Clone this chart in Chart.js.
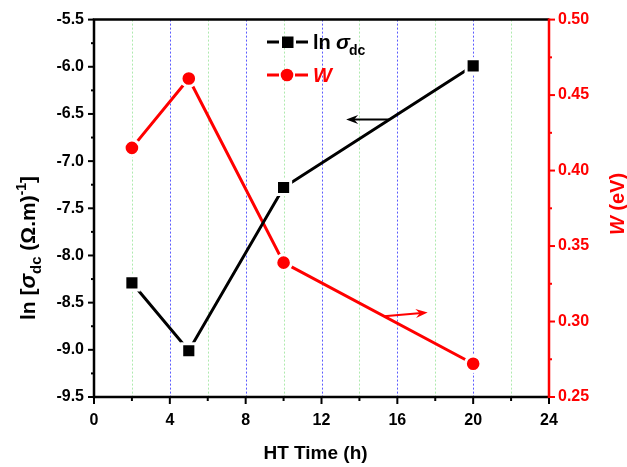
<!DOCTYPE html>
<html>
<head>
<meta charset="utf-8">
<script src="https://cdn.jsdelivr.net/npm/chart.js@4"></script>
<style>
  body { margin: 0; background: #fff; }
  #wrap { width: 627px; height: 467px; }
</style>
</head>
<body>
<div id="wrap"><canvas id="myChart" width="627" height="467"></canvas></div>
<script>
// data
const htTime = [2, 5, 10, 20]
const lnSigma = [-8.29, -9.01, -7.28, -5.99]
const wValues = [0.415, 0.461, 0.339, 0.272]

const xMajorTicks = [0, 4, 8, 12, 16, 20, 24]
const xMinorTicks = [2, 6, 10, 14, 18, 22]
const yMajorTicks = [-9.5, -9.0, -8.5, -8.0, -7.5, -7.0, -6.5, -6.0, -5.5]
const yMinorTicks = [-9.25, -8.75, -8.25, -7.75, -7.25, -6.75, -6.25, -5.75]
const wMajorTicks = [0.25, 0.30, 0.35, 0.40, 0.45, 0.50]
const wMinorTicks = [0.275, 0.325, 0.375, 0.425, 0.475]

// arrows: [tail, tip] in data units
const blackArrow = [[15.6, -6.56], [13.3, -6.56]]
const redArrow = [[15.3, 0.3035], [17.6, 0.306]]

const FONT = "'Liberation Sans', Arial, sans-serif"
const RED = '#ff0000'

function drawArrow(ctx, x1, y1, x2, y2, color) {
    const ang = Math.atan2(y2 - y1, x2 - x1)
    const len = 12, half = 4.5
    ctx.save()
    ctx.strokeStyle = color
    ctx.fillStyle = color
    ctx.lineWidth = 2
    ctx.beginPath()
    ctx.moveTo(x1, y1)
    ctx.lineTo(x2 - Math.cos(ang) * 6, y2 - Math.sin(ang) * 6)
    ctx.stroke()
    ctx.translate(x2, y2)
    ctx.rotate(ang)
    ctx.beginPath()
    ctx.moveTo(0, 0)
    ctx.lineTo(-len, -half)
    ctx.lineTo(-len + 4, 0)
    ctx.lineTo(-len, half)
    ctx.closePath()
    ctx.fill()
    ctx.restore()
}

const customDraw = {
    id: 'customDraw',
    beforeDatasetsDraw(chart) {
        const { ctx, chartArea: a, scales } = chart
        ctx.save()
        ctx.lineWidth = 1
        ctx.setLineDash([2, 2])
        xMajorTicks.slice(1, -1).forEach(v => {
            const x = Math.round(scales.x.getPixelForValue(v)) + 0.5
            ctx.strokeStyle = 'rgba(50,50,255,0.8)'
            ctx.beginPath(); ctx.moveTo(x, a.top); ctx.lineTo(x, a.bottom); ctx.stroke()
        })
        xMinorTicks.forEach(v => {
            const x = Math.round(scales.x.getPixelForValue(v)) + 0.5
            ctx.strokeStyle = 'rgba(120,220,120,0.6)'
            ctx.beginPath(); ctx.moveTo(x, a.top); ctx.lineTo(x, a.bottom); ctx.stroke()
        })
        ctx.restore()
    },
    afterDatasetsDraw(chart) {
        const { ctx, chartArea: a, scales } = chart
        ctx.save()
        ctx.setLineDash([])

        // tick marks
        ctx.lineWidth = 2
        ctx.strokeStyle = '#000'
        xMajorTicks.forEach(v => {
            const x = scales.x.getPixelForValue(v)
            ctx.beginPath(); ctx.moveTo(x, a.bottom); ctx.lineTo(x, a.bottom + 7); ctx.stroke()
        })
        xMinorTicks.forEach(v => {
            const x = scales.x.getPixelForValue(v)
            ctx.beginPath(); ctx.moveTo(x, a.bottom); ctx.lineTo(x, a.bottom + 4); ctx.stroke()
        })
        yMajorTicks.forEach(v => {
            const y = scales.y.getPixelForValue(v)
            ctx.beginPath(); ctx.moveTo(a.left, y); ctx.lineTo(a.left - 6, y); ctx.stroke()
        })
        yMinorTicks.forEach(v => {
            const y = scales.y.getPixelForValue(v)
            ctx.beginPath(); ctx.moveTo(a.left, y); ctx.lineTo(a.left - 3, y); ctx.stroke()
        })

        // frame
        ctx.lineWidth = 2.5
        ctx.beginPath()
        ctx.moveTo(a.right, a.top); ctx.lineTo(a.left, a.top); ctx.lineTo(a.left, a.bottom); ctx.lineTo(a.right, a.bottom)
        ctx.stroke()

        ctx.strokeStyle = RED
        ctx.lineWidth = 2
        wMajorTicks.forEach(v => {
            const y = scales.y1.getPixelForValue(v)
            ctx.beginPath(); ctx.moveTo(a.right, y); ctx.lineTo(a.right + 6, y); ctx.stroke()
        })
        wMinorTicks.forEach(v => {
            const y = scales.y1.getPixelForValue(v)
            ctx.beginPath(); ctx.moveTo(a.right, y); ctx.lineTo(a.right + 3, y); ctx.stroke()
        })
        ctx.lineWidth = 2.5
        ctx.beginPath(); ctx.moveTo(a.right, a.top - 1); ctx.lineTo(a.right, a.bottom + 1); ctx.stroke()

        // arrows
        drawArrow(ctx,
            scales.x.getPixelForValue(blackArrow[0][0]), scales.y.getPixelForValue(blackArrow[0][1]),
            scales.x.getPixelForValue(blackArrow[1][0]), scales.y.getPixelForValue(blackArrow[1][1]), '#000')
        drawArrow(ctx,
            scales.x.getPixelForValue(redArrow[0][0]), scales.y1.getPixelForValue(redArrow[0][1]),
            scales.x.getPixelForValue(redArrow[1][0]), scales.y1.getPixelForValue(redArrow[1][1]), RED)

        // legend
        ctx.lineWidth = 3
        ctx.strokeStyle = '#000'
        ctx.beginPath(); ctx.moveTo(267, 42); ctx.lineTo(279, 42); ctx.moveTo(296, 42); ctx.lineTo(308, 42); ctx.stroke()
        ctx.fillStyle = '#000'
        ctx.fillRect(282, 36.5, 11.5, 11.5)
        ctx.strokeStyle = RED
        ctx.beginPath(); ctx.moveTo(267, 75); ctx.lineTo(279, 75); ctx.moveTo(295, 75); ctx.lineTo(308, 75); ctx.stroke()
        ctx.fillStyle = RED
        ctx.beginPath(); ctx.arc(287, 75, 6.3, 0, Math.PI * 2); ctx.fill()

        ctx.textBaseline = 'alphabetic'
        ctx.textAlign = 'left'
        ctx.fillStyle = '#000'
        ctx.font = 'bold 20px ' + FONT
        ctx.fillText('ln', 313, 49)
        ctx.font = 'italic bold 21px ' + FONT
        ctx.fillText('σ', 336, 49)
        ctx.font = 'bold 14px ' + FONT
        ctx.fillText('dc', 349, 55)
        ctx.fillStyle = RED
        ctx.font = 'italic bold 20px ' + FONT
        ctx.fillText('W', 313, 82)

        // left axis title, rotated
        ctx.save()
        ctx.translate(35, 248)
        ctx.rotate(-Math.PI / 2)
        ctx.fillStyle = '#000'
        const parts = [
            ['ln [', 'bold 21px ' + FONT, 0],
            ['σ', 'italic bold 22px ' + FONT, 0],
            ['dc', 'bold 15px ' + FONT, 6],
            [' (Ω.m)', 'bold 21px ' + FONT, 0],
            ['-1', 'bold 14px ' + FONT, -9],
            [']', 'bold 21px ' + FONT, 0]
        ]
        let total = 0
        parts.forEach(p => { ctx.font = p[1]; total += ctx.measureText(p[0]).width })
        let cx = -total / 2
        parts.forEach(p => {
            ctx.font = p[1]
            ctx.fillText(p[0], cx, p[2])
            cx += ctx.measureText(p[0]).width
        })
        ctx.restore()

        // right axis title
        ctx.save()
        ctx.translate(624, 204)
        ctx.rotate(-Math.PI / 2)
        ctx.fillStyle = RED
        ctx.font = 'italic bold 20px ' + FONT
        const wW = ctx.measureText('W').width
        ctx.font = 'bold 20px ' + FONT
        const restW = ctx.measureText(' (eV)').width
        let rx = -(wW + restW) / 2
        ctx.font = 'italic bold 20px ' + FONT
        ctx.fillText('W', rx, 0)
        ctx.font = 'bold 20px ' + FONT
        ctx.fillText(' (eV)', rx + wW, 0)
        ctx.restore()

        // x axis title
        ctx.fillStyle = '#000'
        ctx.font = 'bold 19px ' + FONT
        ctx.textAlign = 'center'
        ctx.fillText('HT Time (h)', (a.left + a.right) / 2 - 6, 459)

        ctx.restore()
    }
}

const cfg = {
    type: 'line',
    data: {
        datasets: [{
            label: 'ln σdc',
            data: htTime.map((t, i) => ({ x: t, y: lnSigma[i] })),
            yAxisID: 'y',
            borderColor: '#000',
            backgroundColor: '#000',
            borderWidth: 3,
            pointStyle: 'rect',
            pointRadius: 10,
            pointBorderColor: '#fff',
            pointBorderWidth: 3,
            pointBackgroundColor: '#000'
        }, {
            label: 'W',
            data: htTime.map((t, i) => ({ x: t, y: wValues[i] })),
            yAxisID: 'y1',
            borderColor: RED,
            backgroundColor: RED,
            borderWidth: 3,
            pointStyle: 'circle',
            pointRadius: 7.8,
            pointBorderColor: '#fff',
            pointBorderWidth: 3,
            pointBackgroundColor: RED
        }]
    },
    options: {
        responsive: false,
        animation: false,
        layout: { padding: { top: 18, left: 0, right: 0, bottom: 0 } },
        plugins: {
            legend: { display: false },
            tooltip: { enabled: false }
        },
        scales: {
            x: {
                type: 'linear',
                min: 0,
                max: 24,
                grid: { display: false, drawTicks: false },
                border: { display: false },
                ticks: {
                    stepSize: 4,
                    padding: 14,
                    color: '#000',
                    font: { family: FONT, size: 16, weight: 'bold' }
                },
                afterFit(scale) { scale.height = 70 }
            },
            y: {
                position: 'left',
                min: -9.5,
                max: -5.5,
                grid: { display: false, drawTicks: false },
                border: { display: false },
                ticks: {
                    stepSize: 0.5,
                    padding: 10,
                    color: '#000',
                    font: { family: FONT, size: 16, weight: 'bold' },
                    callback: v => v.toFixed(1)
                },
                afterFit(scale) { scale.width = 94 }
            },
            y1: {
                position: 'right',
                min: 0.25,
                max: 0.5,
                grid: { display: false, drawTicks: false },
                border: { display: false },
                ticks: {
                    stepSize: 0.05,
                    padding: 9,
                    color: RED,
                    font: { family: FONT, size: 16, weight: 'bold' },
                    callback: v => v.toFixed(2)
                },
                afterFit(scale) { scale.width = 78 }
            }
        }
    },
    plugins: [customDraw]
}

const ctx = document.getElementById('myChart').getContext('2d')
const myChart = new Chart(ctx, cfg)
</script>
</body>
</html>
